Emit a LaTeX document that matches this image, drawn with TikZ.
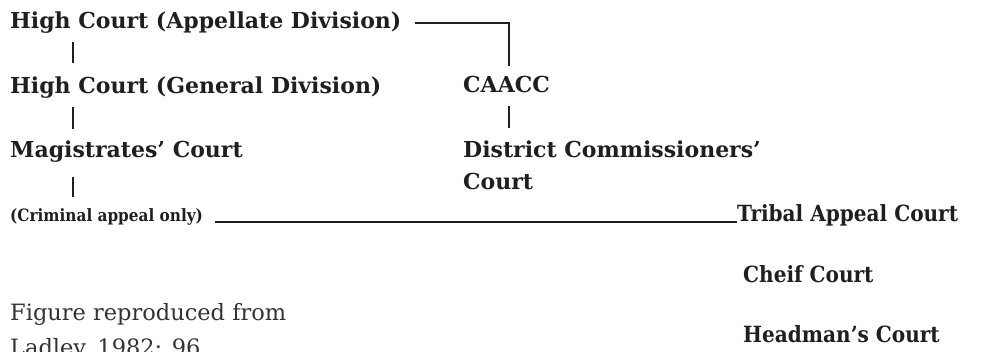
\documentclass[tikz,border=0pt]{standalone}
\usepackage{fontspec}
\setmainfont{DejaVu Serif}
\newfontfamily\courtfont{DejaVu Serif}
\newfontfamily\narrowfont{DejaVu Serif Condensed}
\begin{document}
\begin{tikzpicture}[x=1pt,y=-1pt,
  court/.style={anchor=base west,inner sep=0pt,font=\courtfont\bfseries\fontsize{22}{25}\selectfont,text=black!88},
  small/.style={anchor=base west,inner sep=0pt,font=\narrowfont\bfseries\fontsize{17}{20}\selectfont,text=black!88},
  lower/.style={anchor=base west,inner sep=0pt,font=\narrowfont\bfseries\fontsize{22.3}{25}\selectfont,text=black!88},
  note/.style={anchor=base west,inner sep=0pt,font=\courtfont\fontsize{22.5}{35}\selectfont,text=black!80,align=left},
  link/.style={draw=black!88,line width=1.8pt},
  rule/.style={draw=black!88,line width=1.4pt}]
\useasboundingbox (0,0) rectangle (994,352);
% left column
\node[court] (app) at (10,29) {High Court (Appellate Division)};
\node[court] (gen) at (10,94) {High Court (General Division)};
\node[court] (mag) at (10,158) {Magistrates’ Court};
\node[small] (crim) at (10,222) {(Criminal appeal only)};
% middle column (multi-line nodes are placed by the baseline of their last line)
\node[court] (caacc) at (463,93) {CAACC};
\node[court,align=left,font=\courtfont\bfseries\fontsize{22}{32}\selectfont] (dc) at (463,190) {District Commissioners’\\Court};
% right column
\node[lower] (tribal) at (737,222) {Tribal Appeal Court};
\node[lower] (chief) at (743,283) {Cheif Court};
\node[lower] (head) at (743,343) {Headman’s Court};
% source note
\node[note] (src) at (10,356) {Figure reproduced from\\Ladley, 1982: 96};
% guide columns for the vertical strokes
\coordinate (lcol) at (73,0);
\coordinate (rcol) at (509,0);
% connectors
\draw[link,shorten <=8pt,shorten >=14pt] (lcol |- app.south) -- (lcol |- gen.north);
\draw[link,shorten <=8pt,shorten >=12pt] (lcol |- gen.south) -- (lcol |- mag.north);
\draw[link,shorten <=14pt,shorten >=12pt] (lcol |- mag.south) -- (lcol |- crim.north);
\draw[link] ([xshift=13pt]app.east) -| ([yshift=10pt]rcol |- caacc.north);
\draw[link,shorten <=12pt,shorten >=13pt] (rcol |- caacc.south) -- (rcol |- dc.north);
\draw[rule] ([xshift=12pt]crim.base east) -- (tribal.base west);
\end{tikzpicture}
\end{document}
